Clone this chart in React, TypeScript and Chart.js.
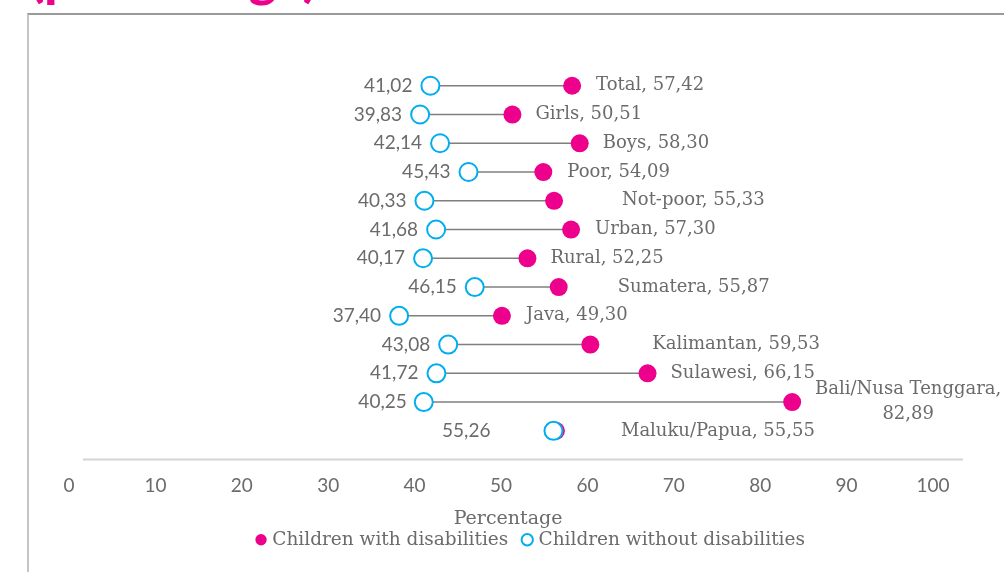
import React, { useEffect, useRef } from "react";
import { Chart, registerables } from "chart.js";

Chart.register(...registerables);

const categories = [
  "Total",
  "Girls",
  "Boys",
  "Poor",
  "Not-poor",
  "Urban",
  "Rural",
  "Sumatera",
  "Java",
  "Kalimantan",
  "Sulawesi",
  "Bali/Nusa Tenggara",
  "Maluku/Papua",
];
const withDisabilities = [57.42, 50.51, 58.3, 54.09, 55.33, 57.3, 52.25, 55.87, 49.3, 59.53, 66.15, 82.89, 55.55];
const withoutDisabilities = [41.02, 39.83, 42.14, 45.43, 40.33, 41.68, 40.17, 46.15, 37.4, 43.08, 41.72, 40.25, 55.26];
const xTickValues = [0, 10, 20, 30, 40, 50, 60, 70, 80, 90, 100];
const seriesNames = ["Children with disabilities", "Children without disabilities"];

// label placement styling (pixel gaps from the point)
const rightLabelGap = [24, 23, 23, 24, 68, 24, 23, 59, 24, 62, 23, 116, 65];
const leftLabelGap = [18, 18, 18, 18, 18, 18, 18, 18, 18, 18, 18, 17, 63];

const PINK = "#EC008C";
const CYAN = "#00AEEF";
const TEXT = "#6b6b6b";
const SERIF = '"DejaVu Serif", serif';
const SANS = "Lato, sans-serif";

const fmt = (v: number) => v.toFixed(2).replace(".", ",");

const labelPlugin = {
  id: "dumbbellLabels",
  afterDatasetsDraw(chart: any) {
    const ctx = chart.ctx;
    const xs = chart.scales.x;
    const ys = chart.scales.y;
    ctx.save();
    ctx.fillStyle = TEXT;
    ctx.textBaseline = "middle";
    categories.forEach((cat, i) => {
      const y = ys.getPixelForValue(i);
      // left label (without disabilities)
      ctx.font = `19px ${SANS}`;
      ctx.textAlign = "right";
      ctx.fillText(fmt(withoutDisabilities[i]), xs.getPixelForValue(withoutDisabilities[i]) - leftLabelGap[i], y);
      // right label (with disabilities)
      ctx.font = `18px ${SERIF}`;
      const px = xs.getPixelForValue(withDisabilities[i]);
      if (cat === "Bali/Nusa Tenggara") {
        ctx.textAlign = "center";
        ctx.fillText(cat + ",", px + rightLabelGap[i], y - 13);
        ctx.fillText(fmt(withDisabilities[i]), px + rightLabelGap[i], y + 12);
      } else {
        ctx.textAlign = "left";
        ctx.fillText(`${cat}, ${fmt(withDisabilities[i])}`, px + rightLabelGap[i], y);
      }
    });
    ctx.restore();
  },
};

const axisLinePlugin = {
  id: "axisLine",
  beforeDatasetsDraw(chart: any) {
    const { ctx, chartArea } = chart;
    ctx.save();
    ctx.strokeStyle = "#d4d4d4";
    ctx.lineWidth = 2;
    ctx.beginPath();
    ctx.moveTo(chartArea.left + 7, chartArea.bottom);
    ctx.lineTo(chartArea.right + 23, chartArea.bottom);
    ctx.stroke();
    ctx.restore();
  },
};

export default function App() {
  const ref = useRef<HTMLCanvasElement>(null);

  useEffect(() => {
    if (!ref.current) return;
    const connectors = categories.map((_, i) => ({
      type: "line" as const,
      label: "connector" + i,
      data: [
        { x: withoutDisabilities[i], y: i },
        { x: withDisabilities[i], y: i },
      ],
      showLine: true,
      borderColor: "#7f7f7f",
      borderWidth: 1.5,
      pointRadius: 0,
      order: 3,
    }));
    const chart = new Chart(ref.current, {
      type: "scatter",
      data: {
        datasets: [
          {
            label: seriesNames[0],
            data: categories.map((_, i) => ({ x: withDisabilities[i], y: i })),
            pointRadius: 9,
            pointBackgroundColor: PINK,
            pointBorderColor: PINK,
            borderColor: PINK,
            backgroundColor: PINK,
            pointBorderWidth: 0,
            borderWidth: 0,
            order: 2,
          },
          {
            label: seriesNames[1],
            data: categories.map((_, i) => ({ x: withoutDisabilities[i], y: i })),
            pointRadius: 9,
            pointBackgroundColor: "#ffffff",
            pointBorderColor: CYAN,
            borderColor: CYAN,
            backgroundColor: "#ffffff",
            pointBorderWidth: 2,
            borderWidth: 2,
            order: 1,
          },
          ...connectors,
        ] as any,
      },
      options: {
        responsive: false,
        animation: false,
        layout: { padding: { left: 76, right: 16, top: 57, bottom: 13 } },
        scales: {
          x: {
            type: "linear",
            min: 0,
            max: 100,
            afterBuildTicks: (scale: any) => {
              scale.ticks = xTickValues.map((v) => ({ value: v }));
            },
            grid: { display: false, drawTicks: false },
            border: { display: false },
            ticks: {
              color: TEXT,
              font: { family: SANS, size: 19, lineHeight: 1.1 },
              padding: 16,
              labelOffset: -7,
              maxRotation: 0,
            },
            title: {
              display: true,
              text: "Percentage",
              color: TEXT,
              font: { family: SERIF, size: 19, lineHeight: 1.0 },
              padding: { top: -3, bottom: -15 },
            },
          },
          y: {
            type: "linear",
            reverse: true,
            min: -1,
            max: 13,
            display: false,
          },
          yRightSpace: {
            type: "linear",
            position: "right",
            display: true,
            grid: { display: false, drawTicks: false },
            border: { display: false },
            ticks: { display: false },
            afterFit: (scale: any) => {
              scale.width = 48;
            },
          },
        },
        plugins: {
          legend: {
            position: "bottom",
            labels: {
              usePointStyle: true,
              pointStyle: "circle",
              boxWidth: 4,
              boxHeight: 8,
              padding: 17,
              color: TEXT,
              font: { family: SERIF, size: 18.5 },
              filter: (item: any) => item.datasetIndex < 2,
              sort: (a: any, b: any) => a.datasetIndex - b.datasetIndex,
            },
          },
          tooltip: { enabled: false },
        },
      },
      plugins: [axisLinePlugin, labelPlugin],
    });
    return () => chart.destroy();
  }, []);

  return (
    <div
      style={{
        position: "absolute",
        left: 0,
        top: 0,
        width: 1004,
        height: 572,
        overflow: "hidden",
        background: "#ffffff",
      }}
    >
      <div
        style={{
          position: "absolute",
          left: 30,
          top: -50,
          fontFamily: SANS,
          fontWeight: 900,
          fontSize: 52,
          lineHeight: "52px",
          color: PINK,
          whiteSpace: "nowrap",
        }}
      >
        (percentage)
      </div>
      <div
        style={{
          position: "absolute",
          left: 27,
          top: 13,
          width: 1100,
          height: 700,
          borderTop: "2px solid #9a9a9a",
          borderLeft: "2px solid #c4c4c4",
        }}
      />
      <canvas ref={ref} width={1004} height={572} style={{ position: "absolute", left: 0, top: 0 }} />
    </div>
  );
}
